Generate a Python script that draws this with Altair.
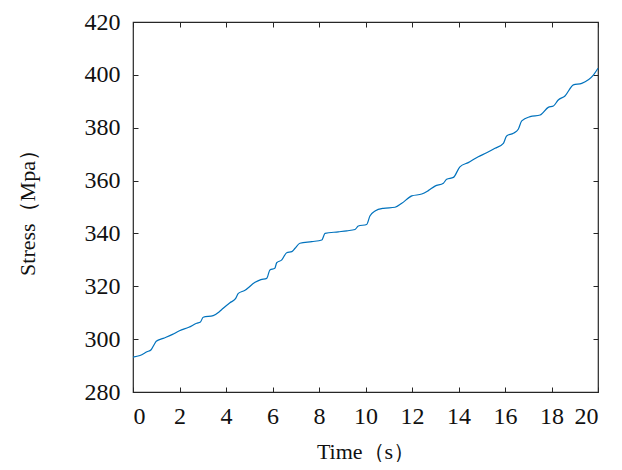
import altair as alt
import pandas as pd

time_s = [0.0, 0.3, 0.6, 0.78, 0.9, 1.0, 1.3, 1.7, 2.0, 2.4, 2.74, 2.9, 3.02, 3.45, 3.7,
          3.88, 4.17, 4.4, 4.53, 4.8, 5.25, 5.5, 5.75, 5.89, 6.1, 6.18, 6.4, 6.61, 6.83,
          6.97, 7.18, 7.69, 8.12, 8.26, 8.83, 9.2, 9.55, 9.69, 10.05, 10.19, 10.41, 10.77,
          11.27, 11.56, 11.99, 12.42, 12.7, 12.99, 13.35, 13.49, 13.78, 14.06, 14.42, 14.85,
          15.21, 15.57, 15.93, 16.07, 16.36, 16.57, 16.72, 17.08, 17.51, 17.86, 18.08, 18.29,
          18.58, 18.94, 19.3, 19.8, 20.0]
stress = [293.2, 293.8, 295.2, 296.0, 297.8, 299.2, 300.3, 301.8, 303.2, 304.5, 306.0, 306.5,
          308.3, 308.9, 310.3, 311.7, 313.8, 315.2, 317.3, 318.4, 321.5, 322.5, 323.0, 326.2,
          326.8, 328.9, 330.0, 332.7, 333.1, 334.4, 336.3, 336.9, 337.5, 340.0, 340.6, 341.0,
          341.5, 342.8, 343.4, 346.6, 348.5, 349.5, 349.9, 351.4, 354.2, 354.9, 356.2, 357.9,
          359.0, 360.5, 361.2, 365.2, 366.8, 369.0, 370.5, 372.2, 374.1, 376.9, 377.9, 379.4,
          382.6, 384.2, 384.8, 387.7, 388.2, 390.5, 392.0, 396.2, 396.8, 399.9, 402.5]

x_ticks = list(range(0, 21, 2))
y_ticks = list(range(280, 421, 20))

df = pd.DataFrame({"t": time_s, "s": stress})

FONT = "Liberation Serif"
AX = "#262626"
TXT = "#111111"
xs = alt.Scale(domain=[0, 20], nice=False, zero=False)
ys = alt.Scale(domain=[280, 420], nice=False, zero=False)

base = alt.Chart(df)

main = base.mark_line(color="#0072BD", strokeWidth=1.2, interpolate="monotone").encode(
    x=alt.X("t:Q", scale=xs, axis=alt.Axis(
        orient="bottom", values=x_ticks, ticks=False, domain=False, grid=False,
        labelFont=FONT, labelFontSize=24, labelColor=TXT, labelPadding=12,
        title="Time（s）", titleFont=FONT, titleFontSize=22, titleFontWeight="normal",
        titleColor=TXT, titleX=232.5, titleY=66, titleAlign="center",
        titleBaseline="alphabetic")),
    y=alt.Y("s:Q", scale=ys, axis=alt.Axis(
        orient="left", values=y_ticks, ticks=False, domain=False, grid=False,
        labelFont=FONT, labelFontSize=24, labelColor=TXT, labelPadding=13,
        title="Stress（Mpa）", titleFont=FONT, titleFontSize=22, titleFontWeight="normal",
        titleColor=TXT, titleX=-106, titleY=185, titleAngle=270, titleAlign="center",
        titleBaseline="middle")),
)

def tick_axis(orient):
    return alt.Axis(orient=orient, values=x_ticks if orient in ("top", "bottom") else y_ticks,
                    labels=False, domain=False, grid=False, title=None,
                    ticks=True, tickSize=5, tickColor=AX, tickWidth=1, offset=-5)

inner_bl = base.mark_line(opacity=0).encode(
    x=alt.X("t:Q", scale=xs, axis=tick_axis("bottom")),
    y=alt.Y("s:Q", scale=ys, axis=tick_axis("left")),
)
inner_tr = base.mark_line(opacity=0).encode(
    x=alt.X("t:Q", scale=xs, axis=tick_axis("top")),
    y=alt.Y("s:Q", scale=ys, axis=tick_axis("right")),
)

chart = alt.layer(main, inner_bl, inner_tr).resolve_axis(
    x="independent", y="independent"
).properties(
    width=465, height=370,
    autosize=alt.AutoSizeParams(type="none"),
    padding={"left": 125, "top": 14, "right": 16, "bottom": 70},
    background="white",
).configure_view(stroke=AX, strokeWidth=1.2)

chart.save("out.html", embed_options={"renderer": "svg", "actions": False})
